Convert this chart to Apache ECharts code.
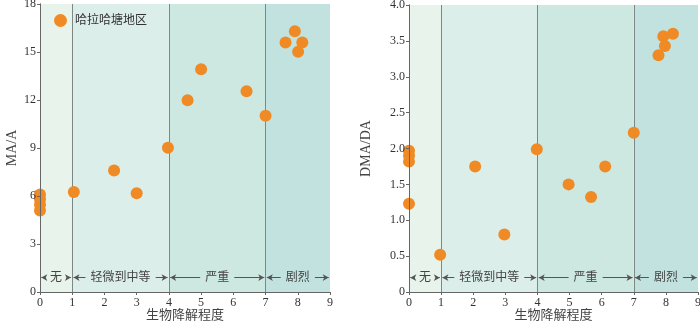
<!DOCTYPE html>
<html><head><meta charset="utf-8">
<script src="https://cdn.jsdelivr.net/npm/echarts@6/dist/echarts.min.js"></script>
<style>html,body{margin:0;padding:0;background:#fff}#c{width:700px;height:323px}</style>
</head><body><div id="c"></div>
<script>
// ---- data ----
const seriesName = '哈拉哈塘地区';
const xAxisName = '生物降解程度';
const leftYName = 'MA/A';
const rightYName = 'DMA/DA';
const leftX = [0, 0, 0, 0, 1.05, 2.3, 3.0, 3.97, 4.58, 5.0, 6.41, 7.0, 7.62, 7.91, 8.01, 8.14];
const leftY = [6.1, 5.8, 5.45, 5.1, 6.25, 7.6, 6.17, 9.02, 11.98, 13.92, 12.54, 11.02, 15.6, 16.3, 15.02, 15.6];
const rightX = [0, 0, 0, 0, 0.97, 2.06, 2.97, 3.98, 4.97, 5.67, 6.11, 7.0, 7.77, 7.92, 7.97, 8.22];
const rightY = [1.97, 1.9, 1.82, 1.23, 0.52, 1.75, 0.80, 1.99, 1.50, 1.325, 1.75, 2.22, 3.30, 3.565, 3.43, 3.60];
const bandEdges = [0, 1, 4, 7, 9];
const bandNames = ['无', '轻微到中等', '严重', '剧烈'];
const bandColors = ['#e8f3ec', '#dbeee9', '#cde7e1', '#c1e2df'];
const dividers = [1, 4, 7];
const xTicks = [0, 9, 1];
const leftYTicks = [0, 18, 3];
const rightYTicks = [0, 4, 0.5];

const chart = echarts.init(document.getElementById('c'));
const serif = '"Liberation Serif","Times New Roman","Noto Sans CJK SC",serif';
const lineColor = '#7d8785';
const PX_PER_UNIT = 32.1;

function zip(xs, ys) { return xs.map((x, i) => [x, ys[i]]); }

function bands(yLabel) {
  const areas = [], lines = [], labels = [];
  for (let i = 0; i < bandNames.length; i++) {
    const a = bandEdges[i], b = bandEdges[i + 1], c = (a + b) / 2;
    const half = (bandNames[i].length * 12 + 10) / 2 / PX_PER_UNIT;
    areas.push([{ xAxis: a, itemStyle: { color: bandColors[i] } }, { xAxis: b }]);
    lines.push([{ coord: [c - half, yLabel] }, { coord: [a + 0.04, yLabel] }]);
    lines.push([{ coord: [c + half, yLabel] }, { coord: [b - 0.04, yLabel] }]);
    labels.push({ coord: [c, yLabel], value: bandNames[i] });
  }
  return { areas, lines, labels };
}

function makeGrid(idx, xs, ys, yTicks, yLabel, fmt, yName, nameGap) {
  const b = bands(yLabel);
  const ax = idx * 2;
  const base = { type: 'scatter', xAxisIndex: ax, yAxisIndex: ax, data: [], silent: true };
  return {
    xAxis: [{
      gridIndex: idx, type: 'value', min: xTicks[0], max: xTicks[1], interval: xTicks[2],
      name: xAxisName, nameLocation: 'middle', nameGap: 17, nameMoveOverlap: false,
      nameTextStyle: { fontFamily: serif, fontSize: 13, color: '#444' },
      axisLine: { show: true, lineStyle: { color: '#666' } },
      axisTick: { show: true, length: 3, lineStyle: { color: '#666' } },
      axisLabel: { fontFamily: serif, fontSize: 12, color: '#333', margin: 5 },
      splitLine: { show: false }, z: 10
    }, {
      gridIndex: idx, type: 'value', position: 'top', min: xTicks[0], max: xTicks[1],
      axisLine: { show: true, lineStyle: { color: '#666' } }, axisTick: { show: false },
      axisLabel: { show: false }, splitLine: { show: false }, z: 10
    }],
    yAxis: [{
      gridIndex: idx, type: 'value', min: yTicks[0], max: yTicks[1], interval: yTicks[2],
      name: yName, nameLocation: 'middle', nameGap: nameGap, nameMoveOverlap: false,
      nameTextStyle: { fontFamily: serif, fontSize: 14, color: '#444' },
      axisLine: { show: true, lineStyle: { color: '#666' } },
      axisTick: { show: true, length: 3, lineStyle: { color: '#666' } },
      axisLabel: { fontFamily: serif, fontSize: 12, color: '#333', margin: 4, formatter: fmt },
      splitLine: { show: false }, z: 10
    }, {
      gridIndex: idx, type: 'value', position: 'right', min: yTicks[0], max: yTicks[1],
      axisLine: { show: true, lineStyle: { color: '#666' } }, axisTick: { show: false },
      axisLabel: { show: false }, splitLine: { show: false }, z: 10
    }],
    series: [
      Object.assign({}, base, {
        z: 1,
        markArea: { silent: true, data: b.areas },
        markLine: {
          silent: true, symbol: ['none', 'none'], label: { show: false },
          lineStyle: { color: lineColor, width: 1, type: 'solid' },
          data: dividers.map(d => ({ xAxis: d }))
        }
      }),
      Object.assign({}, base, {
        z: 3,
        markLine: {
          silent: true, symbol: ['none', 'arrow'], symbolSize: [5, 6], label: { show: false },
          lineStyle: { color: '#555', width: 1, type: 'solid' },
          data: b.lines
        },
        markPoint: {
          silent: true, symbol: 'circle', symbolSize: 0,
          label: { show: true, position: 'inside', formatter: p => p.value, fontFamily: serif,
            fontSize: 12, color: '#444' },
          data: b.labels
        }
      }),
      {
        name: seriesName, type: 'scatter', xAxisIndex: ax, yAxisIndex: ax, z: 5,
        data: zip(xs, ys), symbolSize: 12, clip: false,
        itemStyle: { color: '#f08a24', opacity: 1 }
      }
    ]
  };
}

const g0 = makeGrid(0, leftX, leftY, leftYTicks, 0.9, v => String(v), leftYName, 21);
const g1 = makeGrid(1, rightX, rightY, rightYTicks, 0.2, v => v === 0 ? '0' : v.toFixed(1), rightYName, 36);

chart.setOption({
  animation: false,
  grid: [
    { left: 40, right: 370, top: 4, bottom: 31, outerBoundsMode: 'none', containLabel: false },
    { left: 409, right: 2, top: 5, bottom: 31, outerBoundsMode: 'none', containLabel: false }
  ],
  legend: {
    show: true, left: 54, top: 14, padding: 0, data: [seriesName], itemWidth: 19, itemHeight: 13,
    icon: 'circle', itemGap: 6,
    textStyle: { fontFamily: serif, fontSize: 12, color: '#333' }
  },
  xAxis: [...g0.xAxis, ...g1.xAxis],
  yAxis: [...g0.yAxis, ...g1.yAxis],
  series: [...g0.series, ...g1.series]
});
</script></body></html>
